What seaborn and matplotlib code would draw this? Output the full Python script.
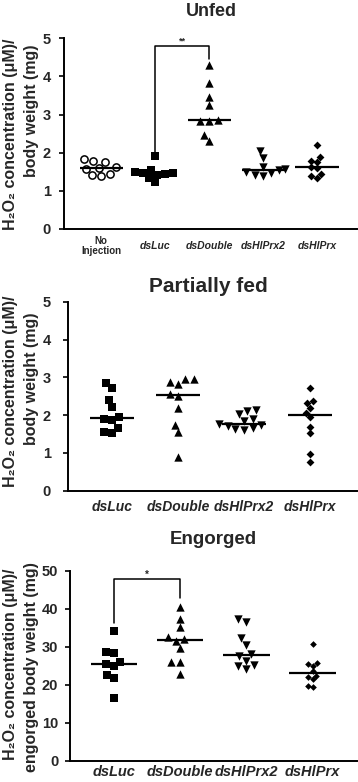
import matplotlib
matplotlib.use('Agg')
import matplotlib.pyplot as plt
import seaborn as sns
import numpy as np
import pandas as pd

# --- data ---
unfed_groups = ['No\nInjection', 'dsLuc', 'dsDouble', 'dsHlPrx2', 'dsHlPrx']
unfed_noinj = [1.83, 1.79, 1.76, 1.63, 1.60, 1.58, 1.45, 1.41, 1.38]
unfed_dsluc = [1.92, 1.55, 1.50, 1.48, 1.47, 1.44, 1.42, 1.35, 1.23]
unfed_dsdouble = [4.30, 3.82, 3.47, 3.25, 2.86, 2.84, 2.83, 2.47, 2.30]
unfed_dshlprx2 = [2.05, 1.85, 1.62, 1.58, 1.55, 1.50, 1.46, 1.42, 1.38]
unfed_dshlprx = [2.20, 1.88, 1.78, 1.75, 1.63, 1.60, 1.45, 1.38, 1.35]

fed_groups = ['dsLuc', 'dsDouble', 'dsHlPrx2', 'dsHlPrx']
pfed_dsluc = [2.84, 2.71, 2.40, 2.22, 1.96, 1.90, 1.87, 1.65, 1.56, 1.52]
pfed_dsdouble = [2.95, 2.95, 2.88, 2.82, 2.56, 2.51, 2.20, 1.74, 1.54, 0.90]
pfed_dshlprx2 = [2.13, 2.12, 2.03, 1.90, 1.85, 1.76, 1.74, 1.72, 1.65, 1.62, 1.60]
pfed_dshlprx = [2.73, 2.38, 2.31, 2.18, 2.05, 1.96, 1.69, 1.52, 0.97, 0.75]

eng_dsluc = [34.1, 28.7, 28.4, 26.1, 25.4, 24.8, 22.6, 21.7, 16.4]
eng_dsdouble = [40.4, 37.3, 35.1, 32.6, 32.0, 31.5, 29.6, 25.9, 25.9, 22.8]
eng_dshlprx2 = [37.2, 36.6, 32.2, 30.4, 28.2, 27.6, 26.3, 25.2, 25.0, 24.1]
eng_dshlprx = [30.7, 25.6, 25.4, 25.0, 23.7, 22.3, 21.9, 21.4, 19.7, 19.3]

# significance brackets: (left group, right group, left bottom, top, right bottom, label)
unfed_sig = (1, 2, 2.03, 4.8, 4.47, '**')
eng_sig = (0, 1, 36.3, 47.7, 42.7, '*')

ylab_line1 = 'H\u2082O\u2082 concentration (\u03bcM)/'
ylab_line2 = 'body weight (mg)'
ylab_line2_eng = 'engorged body weight (mg)'

sns.set_theme(style='ticks')
plt.rcParams['font.family'] = ['Liberation Sans', 'DejaVu Sans']
plt.rcParams['font.weight'] = 'bold'

W, H = 358, 782
fig = plt.figure(figsize=(W / 100, H / 100), dpi=100)


def px_axes(left, top, right, bottom):
    return fig.add_axes([left / W, 1 - bottom / H, (right - left) / W, (bottom - top) / H])


def px_text(x, y, s, **kw):
    return fig.text(x / W, 1 - y / H, s, fontweight='bold', **kw)


MARKERS = {
    'No\nInjection': dict(marker='o', color='white', edgecolor='black', linewidth=1.1, size=5.2),
    'dsLuc': dict(marker='s', color='black', linewidth=0, size=5.4),
    'dsDouble': dict(marker='^', color='black', linewidth=0, size=6.0),
    'dsHlPrx2': dict(marker='v', color='black', linewidth=0, size=6.0),
    'dsHlPrx': dict(marker='D', color='black', linewidth=0, size=4.0),
}


def panel(ax, groups, series, ymax, ystep, xlim, med_w, dsize=4.0):
    for g, vals in zip(groups, series):
        df = pd.DataFrame({'group': [g] * len(vals), 'value': vals})
        kw = dict(MARKERS[g])
        if g == 'dsHlPrx':
            kw['size'] = dsize
        sns.swarmplot(data=df, x='group', y='value', order=groups, ax=ax,
                      warn_thresh=1.0, **kw)
    for i, vals in enumerate(series):
        ax.hlines(np.median(vals), i - med_w, i + med_w, color='black', lw=1.6, zorder=4)
    ax.set_xlim(*xlim)
    ax.set_ylim(0, ymax)
    ax.set_yticks(np.arange(0, ymax + ystep / 2, ystep))
    ax.set_xlabel('')
    ax.set_ylabel('')
    sns.despine(ax=ax)
    for s in ['left', 'bottom']:
        ax.spines[s].set_linewidth(1.4)
        ax.spines[s].set_color('black')
    ax.tick_params(axis='y', length=3.5, width=1.2, color='black')
    ax.tick_params(axis='x', length=0)
    for t in ax.get_yticklabels():
        t.set_fontweight('bold')


def bracket(ax, sig, fs):
    x0, x1, y0, yt, y1, lab = sig
    ax.plot([x0, x0, x1, x1], [y0, yt, yt, y1], color='black', lw=1.1, clip_on=False)
    ax.text((x0 + x1) / 2, yt, lab, ha='center', va='bottom', fontsize=fs, fontweight='bold')


LAB = dict(rotation=90, ha='center', va='center', fontsize=11.5)

# --- Unfed ---
ax1 = px_axes(64, 38.3, 357, 229)
panel(ax1, unfed_groups, [unfed_noinj, unfed_dsluc, unfed_dsdouble, unfed_dshlprx2, unfed_dshlprx],
      5, 1, (-0.69, 4.74), 0.4)
ax1.set_xticks(range(len(unfed_groups)))
ax1.set_xticklabels(unfed_groups, fontsize=7.5, fontstyle='italic', fontweight='bold')
ax1.tick_params(axis='x', pad=12)
ax1.tick_params(axis='y', labelsize=10.5, pad=6)
for t in ax1.get_xticklabels():
    t.set_va('center')
first = ax1.get_xticklabels()[0]
first.set_fontstyle('normal')
first.set_fontsize(7)
first.set_linespacing(1.0)
bracket(ax1, unfed_sig, 6.5)
px_text(211, 11, 'Unfed', ha='center', va='center', fontsize=13)
px_text(11, 134, ylab_line1, **LAB)
px_text(31.5, 111, ylab_line2, **LAB)

# --- Partially fed ---
ax2 = px_axes(68, 301.7, 357, 490.7)
panel(ax2, fed_groups, [pfed_dsluc, pfed_dsdouble, pfed_dshlprx2, pfed_dshlprx],
      5, 1, (-0.67, 3.71), 0.33)
ax2.set_xticks(range(len(fed_groups)))
ax2.set_xticklabels(fed_groups, fontsize=10, fontstyle='italic', fontweight='bold')
ax2.tick_params(axis='x', pad=7)
ax2.tick_params(axis='y', labelsize=10.5, pad=9)
px_text(208, 286, 'Partially fed', ha='center', va='center', fontsize=15)
px_text(11, 391.5, ylab_line1, **LAB)
px_text(32, 378.5, ylab_line2, **LAB)

# --- Engorged ---
ax3 = px_axes(70, 570.7, 357, 760.7)
panel(ax3, fed_groups, [eng_dsluc, eng_dsdouble, eng_dshlprx2, eng_dshlprx],
      50, 10, (-0.66, 3.67), 0.35, dsize=3.4)
ax3.set_xticks(range(len(fed_groups)))
ax3.set_xticklabels(fed_groups, fontsize=10.5, fontstyle='italic', fontweight='bold')
ax3.tick_params(axis='x', pad=3)
ax3.tick_params(axis='y', labelsize=10.5, pad=5)
bracket(ax3, eng_sig, 7)
px_text(213, 539, 'Engorged', ha='center', va='center', fontsize=13.5)
px_text(11, 664, ylab_line1, **LAB)
px_text(32, 667, ylab_line2_eng, **LAB)

fig.savefig('out.png', dpi=100, facecolor='white')
